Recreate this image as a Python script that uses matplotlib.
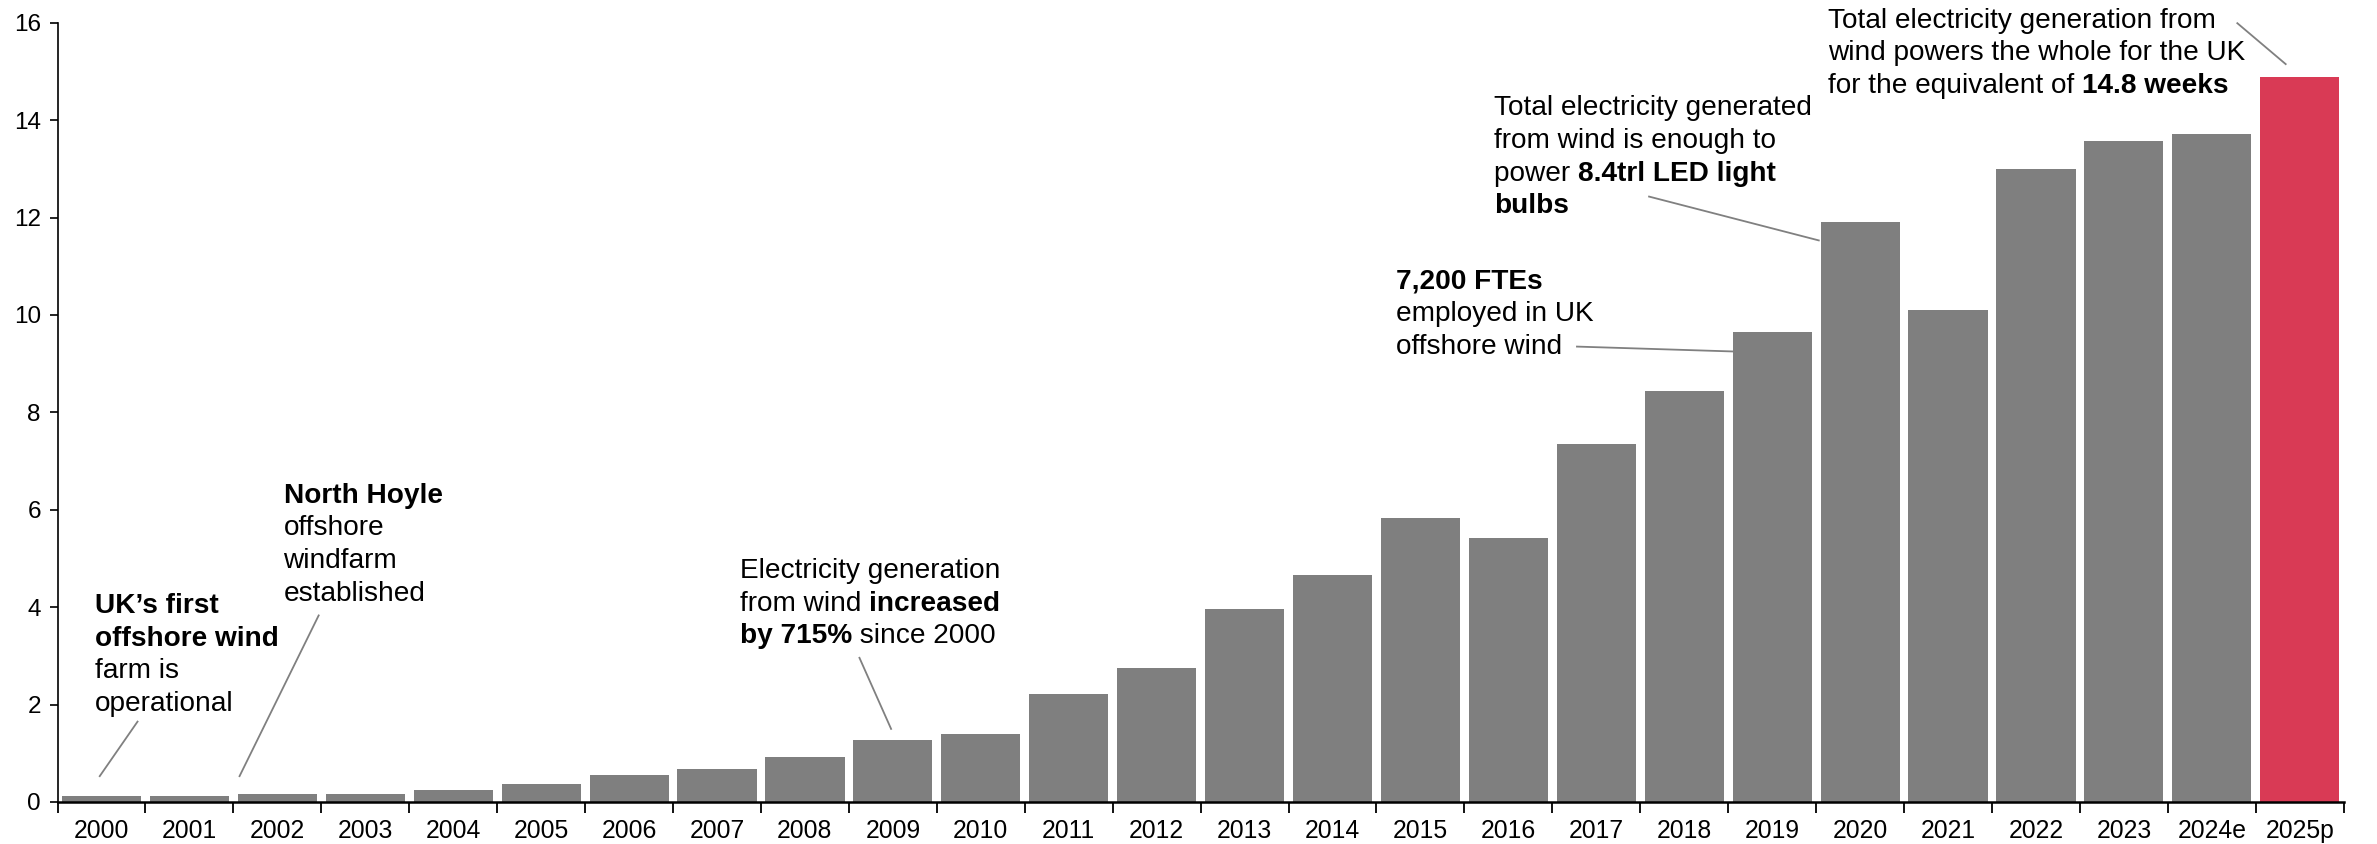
import matplotlib
matplotlib.use("Agg")
import matplotlib.pyplot as plt

plt.rcParams["font.family"] = ["Liberation Sans", "DejaVu Sans"]

# Annual UK electricity generation from offshore wind
years = ["2000", "2001", "2002", "2003", "2004", "2005", "2006", "2007", "2008",
         "2009", "2010", "2011", "2012", "2013", "2014", "2015", "2016", "2017",
         "2018", "2019", "2020", "2021", "2022", "2023", "2024e", "2025p"]
values = [0.12, 0.12, 0.16, 0.16, 0.25, 0.37, 0.55, 0.68, 0.93, 1.27, 1.40,
          2.22, 2.75, 3.97, 4.65, 5.83, 5.43, 7.35, 8.44, 9.65, 11.9, 10.1,
          13.0, 13.57, 13.72, 14.88]
yticks = [0, 2, 4, 6, 8, 10, 12, 14, 16]

GREY = "#7f7f7f"
RED = "#d93a55"
bar_colors = [GREY] * (len(years) - 1) + [RED]

# Callouts: text lines as (segment, bold) runs, anchor of first line, leader line
callouts = [
    {"lines": [[("UK\u2019s first", True)], [("offshore wind", True)],
               [("farm is", False)], [("operational", False)]],
     "xy": (-0.07, 4.02), "leader": ((0.41, 1.65), (-0.02, 0.53))},
    {"lines": [[("North Hoyle", True)], [("offshore", False)],
               [("windfarm", False)], [("established", False)]],
     "xy": (2.07, 6.29), "leader": ((2.47, 3.83), (1.57, 0.53))},
    {"lines": [[("Electricity generation", False)],
               [("from wind ", False), ("increased", True)],
               [("by 715%", True), (" since 2000", False)]],
     "xy": (7.26, 4.74), "leader": ((8.62, 2.96), (8.98, 1.50))},
    {"lines": [[("7,200 FTEs", True)], [("employed in UK", False)],
               [("offshore wind", False)]],
     "xy": (14.72, 10.69), "leader": ((16.78, 9.35), (18.55, 9.25))},
    {"lines": [[("Total electricity generated", False)],
               [("from wind is enough to", False)],
               [("power ", False), ("8.4trl LED light", True)],
               [("bulbs", True)]],
     "xy": (15.84, 14.24), "leader": ((17.6, 12.43), (19.53, 11.53))},
    {"lines": [[("Total electricity generation from", False)],
               [("wind powers the whole for the UK", False)],
               [("for the equivalent of ", False), ("14.8 weeks", True)]],
     "xy": (19.64, 16.04), "leader": ((24.29, 15.99), (24.84, 15.15))},
]

FS_TEXT = 20.2
LINE_PTS = 23.5

fig = plt.figure(figsize=(23.77, 8.44), dpi=100)
ax = fig.add_axes([0.0242, 0.0498, 0.9618, 0.9233])

x = list(range(len(years)))
ax.bar(x, values, width=0.9, color=bar_colors, zorder=2)

ax.set_xlim(-0.5, len(years) - 0.5)
ax.set_ylim(0, 16)
ax.set_yticks(yticks)
ax.set_yticklabels([str(t) for t in yticks], fontsize=17.5)

ax.set_xticks(x)
ax.set_xticklabels(years, fontsize=17.8)
ax.tick_params(axis="x", which="major", length=0, pad=12)
ax.set_xticks([i - 0.5 for i in range(len(years) + 1)], minor=True)
ax.tick_params(axis="x", which="minor", length=8, width=1.3, direction="out")
ax.tick_params(axis="y", length=6, width=1.2, direction="out", pad=6)

for side in ("top", "right"):
    ax.spines[side].set_visible(False)
ax.spines["left"].set_linewidth(1.2)
ax.spines["bottom"].set_linewidth(1.8)

for c in callouts:
    x0, y0 = c["xy"]
    for i, line in enumerate(c["lines"]):
        prev = None
        for seg, bold in line:
            weight = "bold" if bold else "normal"
            if prev is None:
                prev = ax.annotate(seg, xy=(x0, y0), xycoords="data",
                                   xytext=(0, -i * LINE_PTS), textcoords="offset points",
                                   ha="left", va="center", fontsize=FS_TEXT,
                                   fontweight=weight, annotation_clip=False)
            else:
                prev = ax.annotate(seg, xy=(1, 0), xycoords=prev,
                                   ha="left", va="bottom", fontsize=FS_TEXT,
                                   fontweight=weight, annotation_clip=False)
    (xa, ya), (xb, yb) = c["leader"]
    ax.plot([xa, xb], [ya, yb], color="#808080", lw=1.3, clip_on=False, zorder=3)

fig.savefig("out.png", dpi=100)
